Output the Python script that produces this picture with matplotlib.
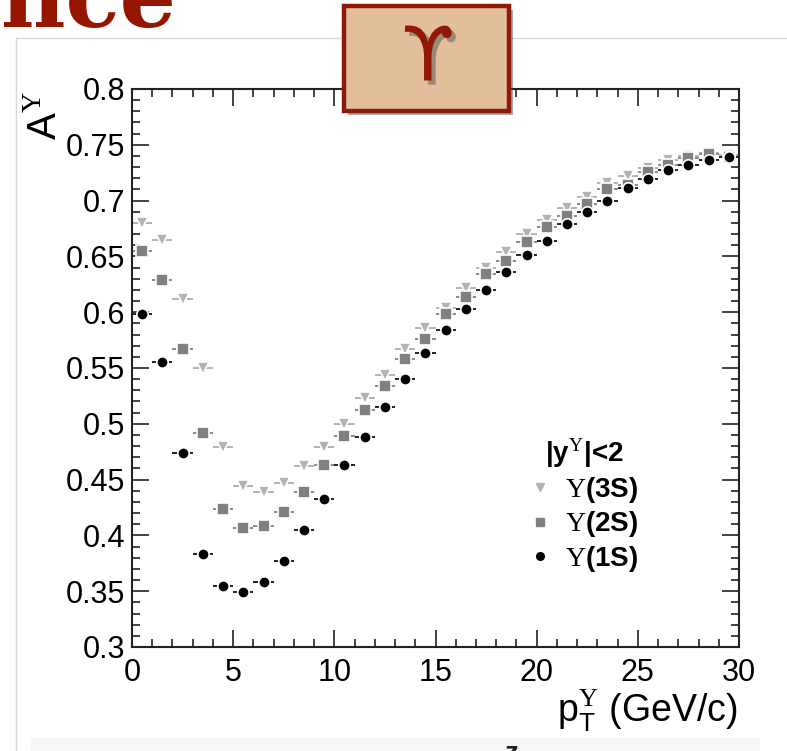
import matplotlib
matplotlib.use("Agg")
import matplotlib.pyplot as plt
import matplotlib.patheffects as pe
from matplotlib.patches import Rectangle
from matplotlib.lines import Line2D

plt.rcParams['font.family'] = ['Liberation Sans', 'DejaVu Sans']
plt.rcParams['mathtext.fontset'] = 'custom'
plt.rcParams['mathtext.rm'] = 'Liberation Serif'
plt.rcParams['mathtext.sf'] = 'Liberation Sans'
plt.rcParams['mathtext.bf'] = 'Liberation Sans:bold'
plt.rcParams['mathtext.it'] = 'Liberation Sans:italic'

# ---------------- data ----------------
pt_bins = [0.5, 1.5, 2.5, 3.5, 4.5, 5.5, 6.5, 7.5, 8.5, 9.5,
           10.5, 11.5, 12.5, 13.5, 14.5, 15.5, 16.5, 17.5, 18.5, 19.5,
           20.5, 21.5, 22.5, 23.5, 24.5, 25.5, 26.5, 27.5, 28.5, 29.5]
bin_half_width = 0.5

acc_1S = [0.598, 0.555, 0.474, 0.383, 0.355, 0.349, 0.358, 0.377, 0.405, 0.433,
          0.463, 0.488, 0.515, 0.540, 0.563, 0.584, 0.603, 0.620, 0.636, 0.651,
          0.664, 0.679, 0.690, 0.700, 0.711, 0.719, 0.727, 0.732, 0.736, 0.739]
acc_2S = [0.655, 0.629, 0.567, 0.492, 0.424, 0.407, 0.408, 0.421, 0.439, 0.463,
          0.489, 0.512, 0.534, 0.558, 0.576, 0.598, 0.614, 0.634, 0.646, 0.663,
          0.676, 0.686, 0.697, 0.710, 0.714, 0.726, 0.732, 0.738, 0.742, 0.739]
acc_3S = [0.680, 0.665, 0.612, 0.550, 0.479, 0.444, 0.439, 0.447, 0.462, 0.479,
          0.500, 0.523, 0.544, 0.567, 0.586, 0.604, 0.622, 0.640, 0.654, 0.670,
          0.683, 0.693, 0.703, 0.716, 0.722, 0.729, 0.736, 0.740, 0.743, 0.741]

series_labels = [r'$\mathrm{\Upsilon}$(3S)', r'$\mathrm{\Upsilon}$(2S)', r'$\mathrm{\Upsilon}$(1S)']
legend_header = r'|y$^{\mathrm{\Upsilon}}$|<2'

x_ticks = [0, 5, 10, 15, 20, 25, 30]
x_tick_labels = ['0', '5', '10', '15', '20', '25', '30']
y_ticks = [0.3, 0.35, 0.4, 0.45, 0.5, 0.55, 0.6, 0.65, 0.7, 0.75, 0.8]
y_tick_labels = ['0.3', '0.35', '0.4', '0.45', '0.5', '0.55', '0.6', '0.65', '0.7', '0.75', '0.8']

# ---------------- figure ----------------
W, H = 787, 751
fig = plt.figure(figsize=(W / 100, H / 100), dpi=100)

def fx(px):
    return px / W

def fy(py):
    return 1 - py / H

# slide decorations
fig.add_artist(Line2D([fx(16), fx(16)], [fy(38), fy(751)], color='#d9d9d9', lw=1.0, zorder=0))
fig.add_artist(Line2D([fx(16), fx(787)], [fy(38), fy(38)], color='#d9d9d9', lw=1.0, zorder=0))
fig.add_artist(Rectangle((fx(31), 0), fx(760) - fx(31), fy(738), color='#f6f6f6', lw=0, zorder=0))
fig.text(fx(176), fy(27), 'nce', ha='right', va='baseline', fontsize=64,
         family='DejaVu Serif', weight='bold', color='#961500')
fig.text(fx(505), fy(741), 'z', ha='left', va='top', fontsize=20, weight='bold', color='#222222')

ax = fig.add_axes([fx(132), fy(647), fx(739) - fx(132), fy(89) - fy(647)])

styles = [
    (acc_3S, 'v', '#b3b3b3', '#b3b3b3'),
    (acc_2S, 's', '#808080', '#8a8a8a'),
    (acc_1S, 'o', '#000000', '#222222'),
]
for vals, mk, col, ecol in styles:
    ax.errorbar(pt_bins, vals, xerr=bin_half_width, fmt=mk, color=col, ecolor=ecol,
                elinewidth=1.4, capsize=0, markersize=8.2, markeredgecolor='white',
                markeredgewidth=1.2)

ax.set_xlim(0, 30)
ax.set_ylim(0.3, 0.8)
ax.set_xticks(x_ticks)
ax.set_xticklabels(x_tick_labels)
ax.set_yticks(y_ticks)
ax.set_yticklabels(y_tick_labels)
ax.set_xticks([i for i in range(0, 31)], minor=True)
ax.set_yticks([0.3 + 0.01 * i for i in range(51)], minor=True)
ax.tick_params(which='both', direction='in', top=True, right=True, width=1.2, color='#222222')
ax.tick_params(which='major', length=12.5)
ax.tick_params(which='minor', length=6)
ax.tick_params(axis='x', which='major', labelsize=22, pad=8)
ax.tick_params(axis='y', which='major', labelsize=22, pad=5)
for s in ax.spines.values():
    s.set_linewidth(1.5)
    s.set_color('#222222')

# axis titles
fig.text(fx(46), fy(91), r'A$^{\mathrm{\Upsilon}}$', rotation=90, ha='center', va='top', fontsize=29)
fig.text(fx(738), fy(722), r'p$_{\mathsf{T}}^{\mathrm{\Upsilon}}$ (GeV/c)', ha='right',
         va='baseline', fontsize=27)

# legend
handles = [Line2D([], [], ls='none', marker=mk, color=col, markersize=5.5)
           for _, mk, col, _ in styles]
leg = ax.legend(handles, series_labels, title=legend_header, loc='upper left',
                bbox_to_anchor=((530 - 132) / 607, 1 - (436 - 89) / 558), frameon=False,
                fontsize=20, borderpad=0, handlelength=0.7, handletextpad=0.55,
                labelspacing=0.17, borderaxespad=0)
leg.get_title().set_fontsize(20)
leg.get_title().set_fontweight('bold')
for t in leg.get_texts():
    t.set_fontweight('bold')

# Upsilon badge
badge = Rectangle((fx(344), fy(111)), fx(509) - fx(344), fy(6) - fy(111),
                  facecolor='#e3be9a', edgecolor='#8e1a0a', lw=3.2, zorder=5,
                  path_effects=[pe.withSimplePatchShadow(offset=(3, -3), shadow_rgbFace='#555555', alpha=0.5)])
fig.add_artist(badge)
fig.text(fx(428), fy(60), '\u03d2', ha='center', va='center', fontsize=54,
         family='DejaVu Sans', color='#931706', zorder=6,
         path_effects=[pe.withSimplePatchShadow(offset=(3, -3), shadow_rgbFace='#555555', alpha=0.5)])

fig.savefig('out.png', dpi=100)
